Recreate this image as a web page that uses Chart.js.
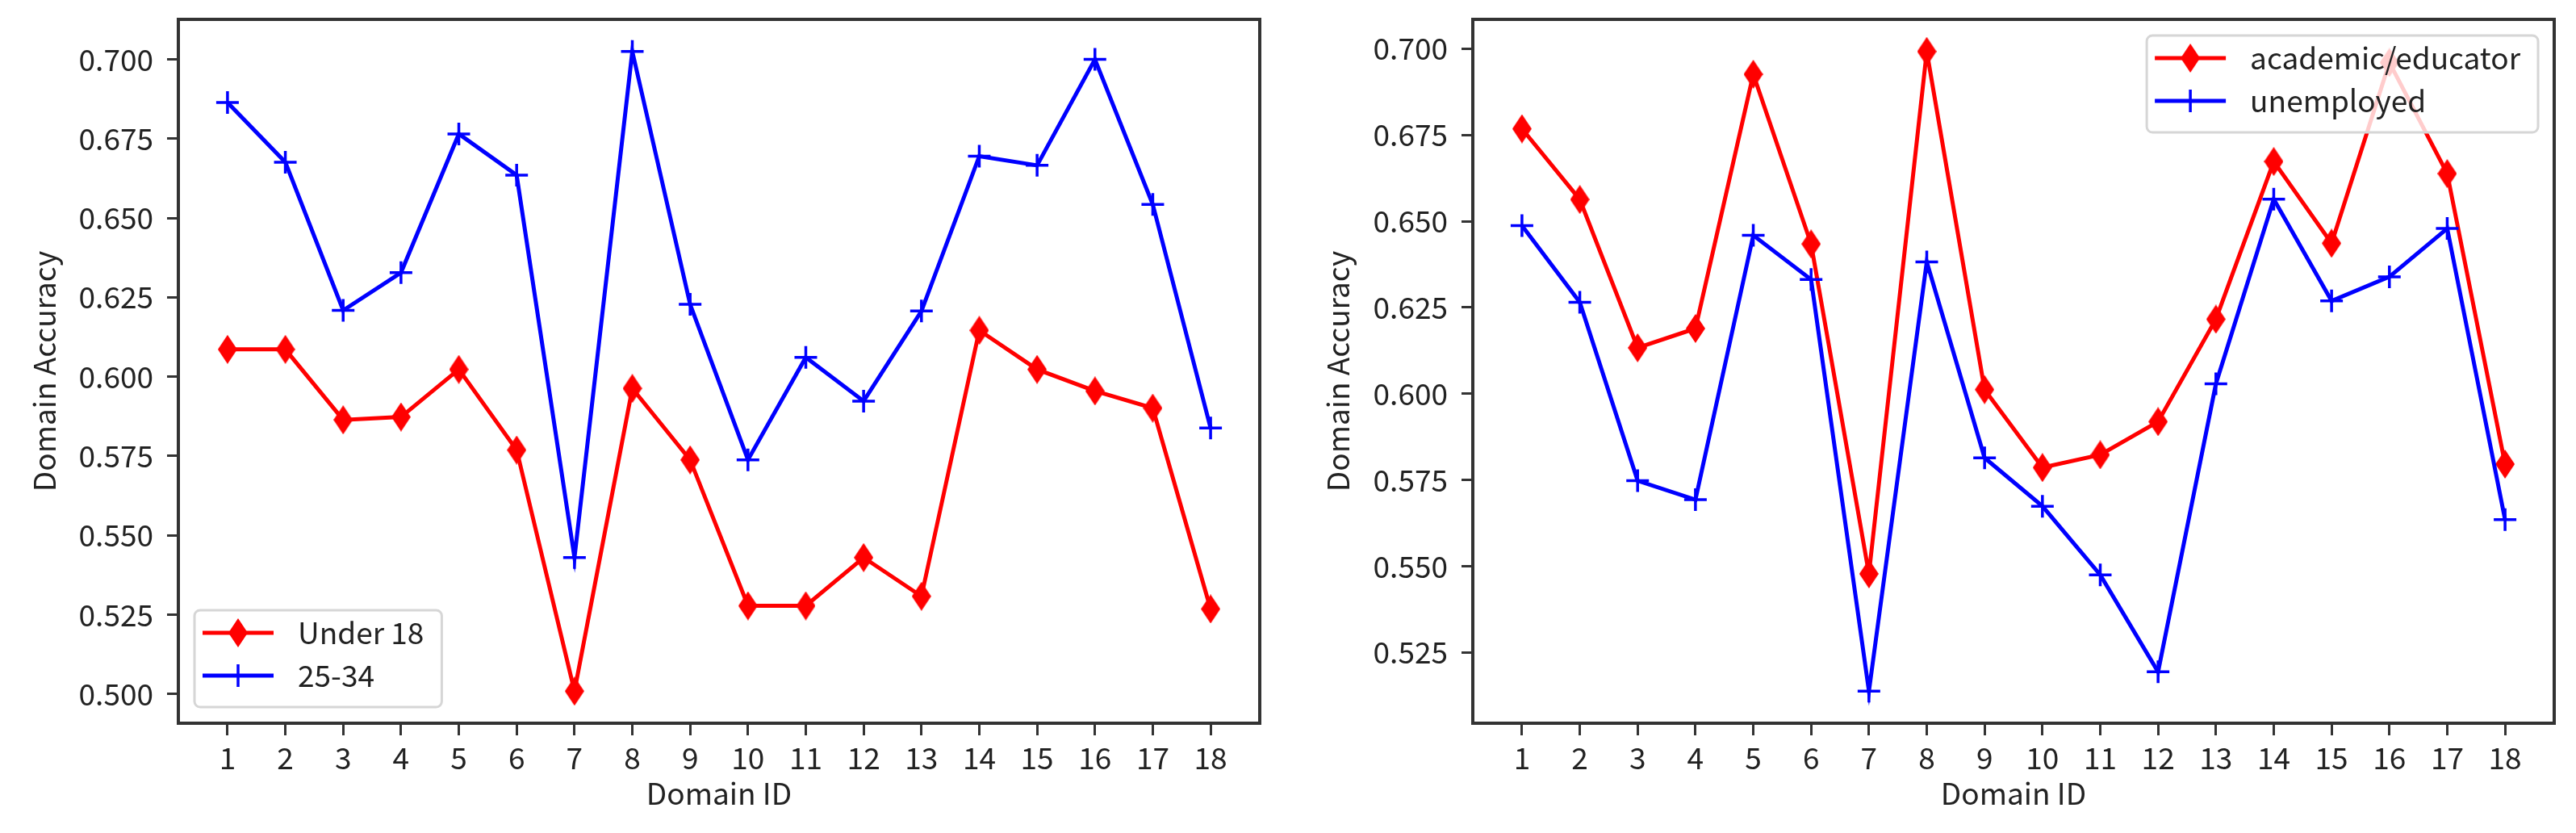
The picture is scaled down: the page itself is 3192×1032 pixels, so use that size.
<!DOCTYPE html>
<html>
<head>
<meta charset="utf-8">
<script src="https://cdn.jsdelivr.net/npm/chart.js@4"></script>
<style>
  html, body { margin: 0; padding: 0; background: #fff; }
  #wrap { position: relative; width: 3192px; height: 1032px; }
  .box { position: absolute; top: 0; width: 1596px; height: 1032px; }
</style>
</head>
<body>
<div id="wrap">
  <div class="box" style="left:0"><canvas id="leftChart"></canvas></div>
  <div class="box" style="left:1596px"><canvas id="rightChart"></canvas></div>
</div>
<script>
// data
const domainIds = [1, 2, 3, 4, 5, 6, 7, 8, 9, 10, 11, 12, 13, 14, 15, 16, 17, 18];

const under18 = [0.6086, 0.6086, 0.5864, 0.5873, 0.6023, 0.5769, 0.5009, 0.5963, 0.5738,
                 0.5278, 0.5278, 0.5430, 0.5308, 0.6146, 0.6023, 0.5955, 0.5901, 0.5268];
const age25to34 = [0.6864, 0.6676, 0.6209, 0.6328, 0.6765, 0.6635, 0.5430, 0.7025, 0.6228,
                   0.5738, 0.6061, 0.5923, 0.6207, 0.6695, 0.6666, 0.7000, 0.6543, 0.5838];

const academic = [0.6768, 0.6563, 0.6133, 0.6189, 0.6926, 0.6434, 0.5478, 0.6992, 0.6012,
                  0.5786, 0.5823, 0.5919, 0.6216, 0.6673, 0.6436, 0.6960, 0.6638, 0.5796];
const unemployed = [0.6487, 0.6265, 0.5748, 0.5693, 0.6459, 0.6331, 0.5138, 0.6382, 0.5814,
                    0.5674, 0.5475, 0.5194, 0.6029, 0.6564, 0.6269, 0.6339, 0.6479, 0.5635];

const leftYTicks = [0.500, 0.525, 0.550, 0.575, 0.600, 0.625, 0.650, 0.675, 0.700];
const rightYTicks = [0.525, 0.550, 0.575, 0.600, 0.625, 0.650, 0.675, 0.700];

const FONT = "'Noto Sans CJK SC', 'Noto Sans', sans-serif";
const FSIZE = 37;
Chart.defaults.font.family = FONT;
Chart.defaults.font.size = FSIZE;
Chart.defaults.color = '#222';

// thin diamond marker (like matplotlib 'd')
function thinDiamond(color, w, h) {
  const c = document.createElement('canvas');
  c.width = w; c.height = h;
  const g = c.getContext('2d');
  g.fillStyle = color;
  g.beginPath();
  g.moveTo(w / 2, 0); g.lineTo(w, h / 2); g.lineTo(w / 2, h); g.lineTo(0, h / 2);
  g.closePath();
  g.fill();
  return c;
}
const redDiamond = thinDiamond('#ff0000', 24, 36);

function toPoints(vals) {
  return vals.map((v, i) => ({ x: domainIds[i], y: v }));
}

function redSeries(label, vals) {
  return {
    label: label, data: toPoints(vals), order: 1,
    borderColor: '#ff0000', backgroundColor: '#ff0000', borderWidth: 5,
    pointStyle: redDiamond, pointRadius: 12, tension: 0
  };
}
function blueSeries(label, vals) {
  return {
    label: label, data: toPoints(vals), order: 0,
    borderColor: '#0000ff', backgroundColor: '#0000ff', borderWidth: 5,
    pointStyle: 'cross', pointRadius: 14, pointBorderWidth: 3.5,
    pointBorderColor: '#0000ff', tension: 0
  };
}

// box around the plot area
const framePlugin = {
  id: 'frame',
  afterDraw(chart) {
    const { ctx, chartArea: a } = chart;
    ctx.save();
    ctx.strokeStyle = '#333';
    ctx.lineWidth = 4;
    ctx.strokeRect(a.left, a.top, a.right - a.left, a.bottom - a.top);
    ctx.restore();
  }
};

// legend drawn inside the plot, matplotlib style
function boxLegend(corner) {
  return {
    id: 'boxLegend',
    afterDraw(chart) {
      const { ctx, chartArea: a } = chart;
      const items = chart.data.datasets;
      ctx.save();
      ctx.font = FSIZE + 'px ' + FONT;
      const textW = Math.max(...items.map(d => ctx.measureText(d.label).width));
      const w = 128 + textW + 22, h = 120;
      const x = corner === 'lowerLeft' ? a.left + 20 : a.right - 20 - w;
      const y = corner === 'lowerLeft' ? a.bottom - 20 - h : a.top + 20;
      ctx.beginPath();
      ctx.roundRect(x, y, w, h, 7);
      ctx.fillStyle = 'rgba(255,255,255,0.8)';
      ctx.fill();
      ctx.strokeStyle = '#d6d6d6';
      ctx.lineWidth = 3;
      ctx.stroke();
      items.forEach((d, i) => {
        const cy = y + 28 + i * 53;
        ctx.strokeStyle = d.borderColor;
        ctx.lineWidth = d.borderWidth;
        ctx.beginPath();
        ctx.moveTo(x + 10, cy); ctx.lineTo(x + 98, cy);
        ctx.stroke();
        ctx.fillStyle = d.backgroundColor;
        ctx.strokeStyle = d.borderColor;
        ctx.lineWidth = d.pointBorderWidth || 1;
        Chart.helpers.drawPoint(ctx, {
          pointStyle: d.pointStyle, radius: d.pointRadius, rotation: 0,
          borderWidth: d.pointBorderWidth || 1
        }, x + 54, cy);
        ctx.fillStyle = '#222';
        ctx.textBaseline = 'middle';
        ctx.textAlign = 'left';
        ctx.fillText(d.label, x + 128, cy);
      });
      ctx.restore();
    }
  };
}

function makeChart(id, datasets, yMin, yMax, yTicks, yWidth, yTitlePad, padRight, corner) {
  const tickGrid = {
    drawOnChartArea: false, drawTicks: true,
    tickLength: 14, tickWidth: 3, tickColor: '#333'
  };
  return new Chart(document.getElementById(id), {
    type: 'line',
    data: { datasets: datasets },
    options: {
      responsive: true,
      maintainAspectRatio: false,
      animation: false,
      layout: { padding: { top: 24, right: padRight, bottom: 0, left: 0 } },
      plugins: { legend: { display: false }, tooltip: { enabled: false } },
      scales: {
        x: {
          type: 'linear', min: 0.15, max: 18.85,
          afterBuildTicks: ax => { ax.ticks = domainIds.map(v => ({ value: v })); },
          ticks: { padding: 6, maxRotation: 0, autoSkip: false },
          grid: Object.assign({}, tickGrid, { tickLength: 15 }),
          border: { display: false },
          title: { display: true, text: 'Domain ID', padding: { top: 0, bottom: 27 } },
          afterFit: ax => { ax.height = 136; ax.paddingLeft = 0; ax.paddingRight = 0; }
        },
        y: {
          type: 'linear', min: yMin, max: yMax,
          afterBuildTicks: ax => { ax.ticks = yTicks.map(v => ({ value: v })); },
          ticks: { padding: 17, callback: v => v.toFixed(3) },
          grid: tickGrid,
          border: { display: false },
          title: { display: true, text: 'Domain Accuracy', padding: { top: yTitlePad, bottom: 0 } },
          afterFit: ax => { ax.width = yWidth; ax.paddingTop = 0; ax.paddingBottom = 0; }
        }
      }
    },
    plugins: [framePlugin, boxLegend(corner)]
  });
}

makeChart('leftChart',
  [redSeries('Under 18', under18), blueSeries('25-34', age25to34)],
  0.4908, 0.7126, leftYTicks, 221, 33, 35, 'lowerLeft');

makeChart('rightChart',
  [redSeries('academic/educator', academic), blueSeries('unemployed', unemployed)],
  0.5045, 0.7085, rightYTicks, 229, 40, 27, 'upperRight');
</script>
</body>
</html>
